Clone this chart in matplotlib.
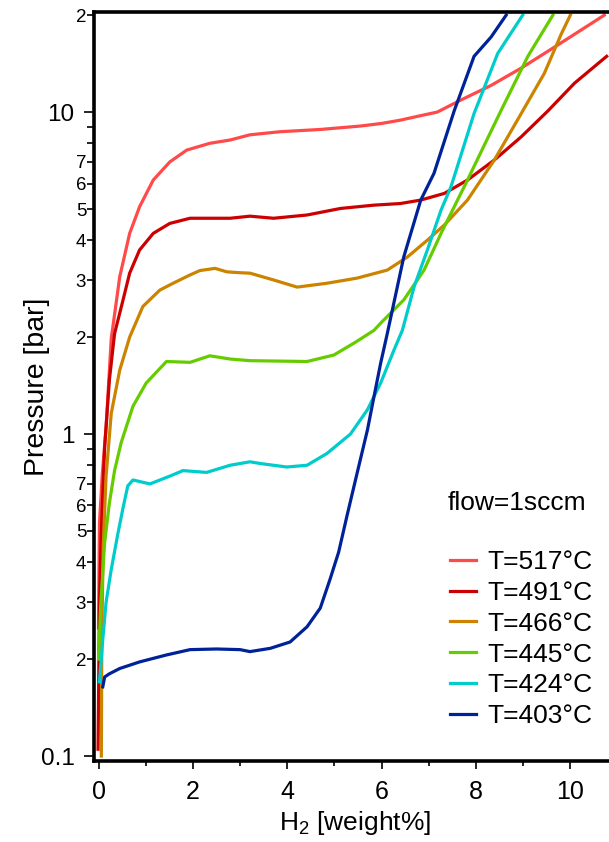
import matplotlib
matplotlib.use('Agg')
import matplotlib.pyplot as plt
from matplotlib.ticker import FixedLocator, FixedFormatter, MultipleLocator

plt.rcParams['font.family'] = ['Liberation Sans', 'DejaVu Sans']
plt.rcParams['mathtext.fontset'] = 'custom'
plt.rcParams['mathtext.rm'] = 'Liberation Sans'
plt.rcParams['mathtext.it'] = 'Liberation Sans:italic'

# ---------------- data ----------------
temps = [517, 491, 466, 445, 424, 403]
colors = ['#ff4a4a', '#cc0000', '#cc8400', '#66cc00', '#00cccc', '#002299']

x517 = [0.0, 0.01, 0.02, 0.08, 0.16, 0.27, 0.45, 0.66, 0.87, 1.16, 1.51, 1.87, 2.36, 2.79,
        3.21, 3.85, 4.70, 5.55, 6.00, 6.40, 6.83, 7.18, 7.68, 8.32, 8.96, 9.66, 10.72]
y517 = [0.25, 0.38, 0.53, 0.75, 1.05, 1.98, 3.08, 4.2, 5.08, 6.15, 7.0, 7.62, 8.0, 8.19,
        8.5, 8.69, 8.83, 9.05, 9.22, 9.44, 9.75, 10.0, 10.9, 12.1, 13.7, 15.9, 20.0]

x491 = [-0.01, 0.0, 0.02, 0.06, 0.13, 0.23, 0.34, 0.52, 0.66, 0.87, 1.16, 1.51, 1.94, 2.79,
        3.21, 3.71, 4.42, 5.13, 5.84, 6.40, 6.83, 7.33, 7.82, 8.39, 8.96, 9.53, 10.09, 10.77]
y491 = [0.105, 0.15, 0.3, 0.5, 0.91, 1.47, 2.05, 2.61, 3.16, 3.73, 4.2, 4.51, 4.68, 4.68,
        4.75, 4.68, 4.79, 5.02, 5.14, 5.2, 5.33, 5.59, 6.15, 7.1, 8.38, 10.1, 12.3, 14.9]

x466 = [0.06, 0.07, 0.10, 0.16, 0.27, 0.45, 0.66, 0.94, 1.30, 1.58, 1.94, 2.15, 2.47, 2.72,
        3.0, 3.21, 3.71, 4.21, 4.84, 5.48, 6.12, 6.55, 6.97, 7.33, 7.82, 8.39, 8.96, 9.45,
        9.81, 10.0]
y466 = [0.1, 0.24, 0.45, 0.74, 1.16, 1.58, 2.0, 2.49, 2.80, 2.94, 3.12, 3.22, 3.27, 3.19,
        3.17, 3.16, 3.01, 2.86, 2.94, 3.05, 3.23, 3.55, 4.0, 4.46, 5.33, 7.1, 9.9, 13.2,
        17.5, 20.0]

x445 = [0.0, 0.05, 0.13, 0.23, 0.34, 0.48, 0.73, 1.01, 1.44, 1.94, 2.36, 2.79, 3.21, 4.42,
        4.99, 5.45, 5.84, 5.98, 6.47, 6.90, 7.26, 7.82, 8.53, 9.1, 9.63]
y445 = [0.2, 0.3, 0.46, 0.61, 0.77, 0.94, 1.22, 1.44, 1.68, 1.67, 1.75, 1.71, 1.69, 1.68,
        1.76, 1.93, 2.1, 2.21, 2.61, 3.23, 4.2, 6.15, 10.1, 14.9, 20.0]

x424 = [0.02, 0.09, 0.16, 0.27, 0.41, 0.52, 0.62, 0.73, 1.09, 1.51, 1.79, 2.29, 2.79, 3.21,
        3.43, 3.99, 4.42, 4.84, 5.34, 5.70, 5.98, 6.26, 6.44, 6.69, 6.97, 7.26, 7.47, 7.96,
        8.46, 8.99]
y424 = [0.17, 0.23, 0.30, 0.38, 0.49, 0.59, 0.69, 0.72, 0.70, 0.74, 0.77, 0.76, 0.80, 0.82,
        0.81, 0.79, 0.80, 0.87, 1.0, 1.19, 1.44, 1.82, 2.1, 2.87, 3.73, 4.96, 5.86, 9.9,
        15.2, 20.0]

x403 = [0.09, 0.13, 0.23, 0.45, 0.87, 1.44, 1.94, 2.5, 3.0, 3.21, 3.64, 4.06, 4.42, 4.70,
        4.91, 5.09, 5.27, 5.48, 5.70, 5.84, 5.98, 6.12, 6.47, 6.83, 7.11, 7.54, 7.96, 8.32,
        8.64]
y403 = [0.164, 0.176, 0.18, 0.187, 0.196, 0.206, 0.214, 0.215, 0.214, 0.211, 0.216, 0.226,
        0.252, 0.288, 0.355, 0.43, 0.56, 0.755, 1.03, 1.31, 1.66, 2.05, 3.55, 5.33, 6.45,
        10.1, 14.9, 17.1, 20.0]

series_x = [x517, x491, x466, x445, x424, x403]
series_y = [y517, y491, y466, y445, y424, y403]

y_major = [0.1, 1, 10]
y_major_labels = ['0.1', '1', '10']
y_minor_mult = [2, 3, 4, 5, 6, 7, 8, 9]
y_minor_labeled = [2, 3, 4, 5, 6, 7]

# ---------------- figure ----------------
fig = plt.figure(figsize=(6.09, 8.42), dpi=100)
ax = fig.add_axes([0.1548, 0.0962, 0.8452, 0.8899])

for xs, ys, t, c in zip(series_x, series_y, temps, colors):
    ax.plot(xs, ys, color=c, lw=2.3, label=f'T={t}°C', solid_joinstyle='round')

ax.set_yscale('log')
ax.set_ylim(0.0965, 20.5)
ax.set_xlim(-0.09, 10.82)

ax.yaxis.set_major_locator(FixedLocator(y_major))
ax.yaxis.set_major_formatter(FixedFormatter(y_major_labels))
minor_locs, minor_labels = [], []
for d in y_major:
    for m in y_minor_mult:
        v = d * m
        if v <= 20.5:
            minor_locs.append(v)
            minor_labels.append(str(m) if m in y_minor_labeled else '')
ax.yaxis.set_minor_locator(FixedLocator(minor_locs))
ax.yaxis.set_minor_formatter(FixedFormatter(minor_labels))

ax.xaxis.set_major_locator(MultipleLocator(2))
ax.xaxis.set_minor_locator(MultipleLocator(1))

ax.tick_params(axis='y', which='major', direction='out', length=7.2, width=1.2,
               labelsize=17.5, pad=7)
ax.tick_params(axis='y', which='minor', direction='out', length=5, width=1.2,
               labelsize=13.5, pad=0.8)
ax.tick_params(axis='x', which='major', direction='out', length=5.8, width=1.2,
               labelsize=18, pad=8)
ax.tick_params(axis='x', which='minor', direction='out', length=3.6, width=1.2)

for s in ['left', 'bottom', 'top']:
    ax.spines[s].set_linewidth(2.6)
ax.spines['right'].set_visible(False)

ax.set_ylabel('Pressure [bar]', fontsize=20.5)
ax.yaxis.set_label_coords(-0.086, 0.5)
ax.set_xlabel('H$_\\mathregular{2}$ [weight%]', fontsize=19)
ax.xaxis.set_label_coords(0.506, -0.064)

fig.text(448 / 609, (842 - 503) / 842, 'flow=1sccm', fontsize=19, va='center', ha='left')
ax.legend(loc='upper left', bbox_to_anchor=(450 / 609, (842 - 550) / 842),
          bbox_transform=fig.transFigure, frameon=False, fontsize=19,
          handlelength=1.0, handletextpad=0.4, labelspacing=0.26,
          borderpad=0, borderaxespad=0)

fig.savefig('out.png', dpi=100)
